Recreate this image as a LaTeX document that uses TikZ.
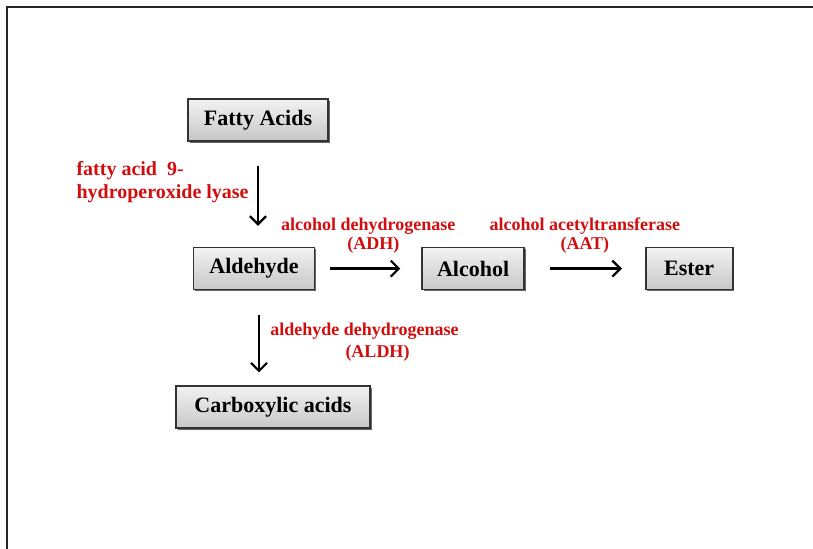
\documentclass[tikz,border=0pt]{standalone}
\usepackage{fontspec}
\setmainfont{Liberation Serif}
\usetikzlibrary{arrows.meta,positioning,shadows}
\definecolor{enzred}{rgb}{0.82,0.05,0.05}
\definecolor{boxgray}{rgb}{0.78,0.78,0.78}

\begin{document}
\begin{tikzpicture}[x=0.5pt,y=-0.5pt,
   b/.style={draw=black!80,line width=0.8pt,top color=black!5,bottom color=boxgray,
             minimum height=21pt,inner xsep=0pt,font=\fontsize{11}{13}\selectfont\bfseries,
             drop shadow={shadow xshift=0.8pt,shadow yshift=-0.8pt,fill=black!60,opacity=1}},
   e/.style={text=enzred,font=\fontsize{9}{9.5}\selectfont\bfseries,align=center,inner sep=0pt},
   a/.style={-{Straight Barb[length=4pt,width=8pt]},line width=1.1pt}]
  \useasboundingbox (0,0) rectangle (813,549);
  \draw[line width=1pt,black!85] (7,549) -- (7,7) -- (813,7);
  \node[b,minimum width=70pt] (fatty) at (258,120) {Fatty Acids};
  \node[b,minimum width=60.5pt,below=52.5pt of fatty,xshift=-2pt] (ald) {Aldehyde};
  \node[b,minimum width=51pt,right=53pt of ald] (alc) {Alcohol};
  \node[b,minimum width=43.5pt,right=60pt of alc] (est) {Ester};
  \node[b,minimum width=97pt,below=47.5pt of ald,xshift=9.5pt] (carb) {Carboxylic acids};
  \draw[a,shorten <=12pt,shorten >=10.5pt] (fatty.south) -- (fatty.south |- ald.north);
  \draw[a,shorten <=7.5pt,shorten >=10.5pt] (ald) --
     node[e,above=7pt] (adh) {alcohol dehydrogenase\\\hspace*{5pt}(ADH)} (alc);
  \draw[a,shorten <=12.5pt,shorten >=11.5pt] (alc) --
     node[e,above=7pt] (aat) {alcohol acetyltransferase\\(AAT)} (est);
  \draw[a,shorten <=12.5pt,shorten >=6.5pt] ([xshift=2.5pt]ald.south) -- ([xshift=2.5pt]ald.south |- carb.north);
  \node[e,align=left,anchor=north east,font=\fontsize{10}{11.5}\selectfont\bfseries] (hpl) at (249,161)
       {fatty acid\ \ 9-\\hydroperoxide lyase};
  \node[e,anchor=north west] (aldh) at (270,323) {aldehyde dehydrogenase\\[1.5pt]\hspace*{13pt}(ALDH)};
\end{tikzpicture}
\end{document}
